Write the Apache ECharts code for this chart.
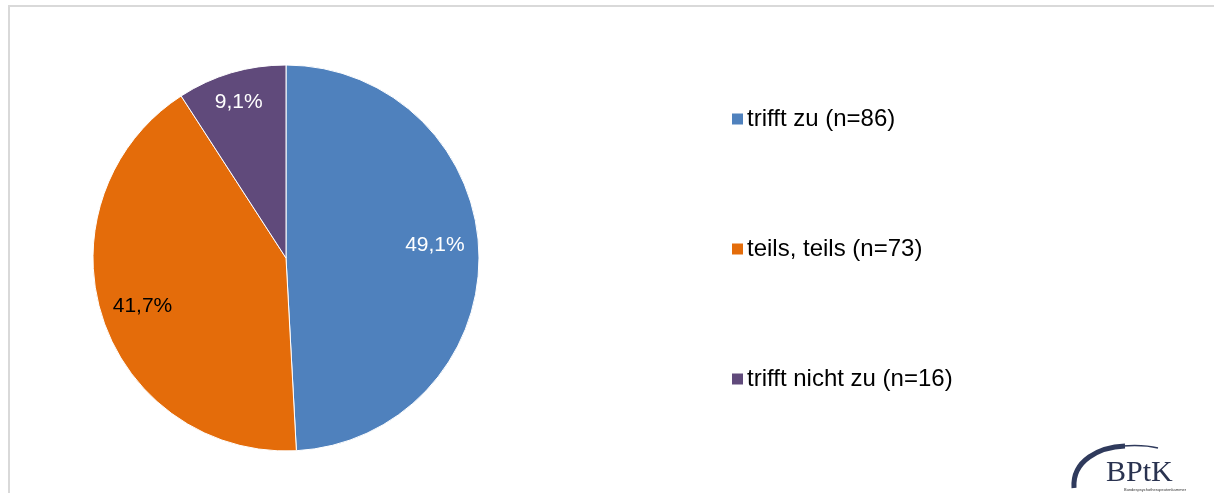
<!DOCTYPE html>
<html>
<head>
<meta charset="utf-8">
<script src="https://cdn.jsdelivr.net/npm/echarts@6/dist/echarts.min.js"></script>
<style>
html,body{margin:0;padding:0;background:#fff;}
#chart{width:1214px;height:493px;}
</style>
</head>
<body>
<div id="chart"></div>
<script>
const categories = ['trifft zu', 'teils, teils', 'trifft nicht zu'];
const counts = [86, 73, 16];
const colors = ['#4F81BD', '#E46C0A', '#604A7B'];
const labelColors = ['#ffffff', '#000000', '#ffffff'];

const FONT = 'Liberation Sans, Arial, sans-serif';
const total = counts.reduce((a, b) => a + b, 0);
const legendNames = categories.map((c, i) => c + ' (n=' + counts[i] + ')');
const pieData = categories.map((c, i) => ({
  name: legendNames[i],
  value: counts[i],
  itemStyle: { color: colors[i] }
}));
const labelData = categories.map((c, i) => ({
  name: legendNames[i],
  value: counts[i],
  label: { color: labelColors[i] }
}));
// small label nudges (Excel best-fit placement)
const labelNudge = [[-4, -9], [2, 1], [-4, -9]];

const chart = echarts.init(document.getElementById('chart'), null, { renderer: 'canvas' });
chart.setOption({
  animation: false,
  backgroundColor: '#ffffff',
  legend: {
    orient: 'vertical',
    left: 730,
    top: 105,
    padding: 0,
    itemWidth: 13,
    itemHeight: 13,
    itemGap: 102,
    icon: 'rect',
    selectedMode: false,
    data: legendNames,
    textStyle: { fontFamily: FONT, fontSize: 24, color: '#000', lineHeight: 28, padding: [0, 0, 0, -2] }
  },
  series: [
    {
      type: 'pie',
      center: [286, 258],
      radius: 193,
      startAngle: 90,
      clockwise: true,
      silent: true,
      label: { show: false },
      labelLine: { show: false },
      itemStyle: { borderColor: '#ffffff', borderWidth: 1 },
      data: pieData
    },
    {
      type: 'pie',
      center: [286, 258],
      radius: [107, 193],
      startAngle: 90,
      clockwise: true,
      silent: true,
      legendHoverLink: false,
      itemStyle: { color: 'rgba(0,0,0,0)' },
      label: {
        show: true,
        position: 'inside',
        fontFamily: FONT,
        fontSize: 21,
        formatter: p => (p.value / total * 100).toFixed(1).replace('.', ',') + '%'
      },
      labelLayout: p => ({ dx: labelNudge[p.dataIndex][0], dy: labelNudge[p.dataIndex][1] }),
      labelLine: { show: false },
      data: labelData
    }
  ],
  graphic: [
    {
      type: 'rect',
      shape: { x: 9, y: 6, width: 1400, height: 700 },
      style: { fill: 'none', stroke: '#d9d9d9', lineWidth: 2 },
      silent: true
    },
    {
      type: 'bezierCurve',
      shape: { x1: 1074, y1: 488, x2: 1125, y2: 446, cpx1: 1072, cpy1: 460, cpx2: 1100, cpy2: 447 },
      style: { fill: 'none', stroke: '#2f3a5c', lineWidth: 5 },
      silent: true
    },
    {
      type: 'bezierCurve',
      shape: { x1: 1122, y1: 446, x2: 1158, y2: 448, cpx1: 1135, cpy1: 445, cpx2: 1150, cpy2: 446 },
      style: { fill: 'none', stroke: '#2f3a5c', lineWidth: 1.5 },
      silent: true
    },
    {
      type: 'text',
      left: 1106,
      top: 458,
      style: { text: 'BPtK', font: '30px "Liberation Serif", "Times New Roman", serif', fill: '#2a3350' },
      silent: true
    },
    {
      type: 'text',
      left: 1124,
      top: 488,
      style: { text: 'Bundespsychotherapeutenkammer', font: '4px "Liberation Sans", Arial, sans-serif', fill: '#333' },
      silent: true
    }
  ]
});
</script>
</body>
</html>
